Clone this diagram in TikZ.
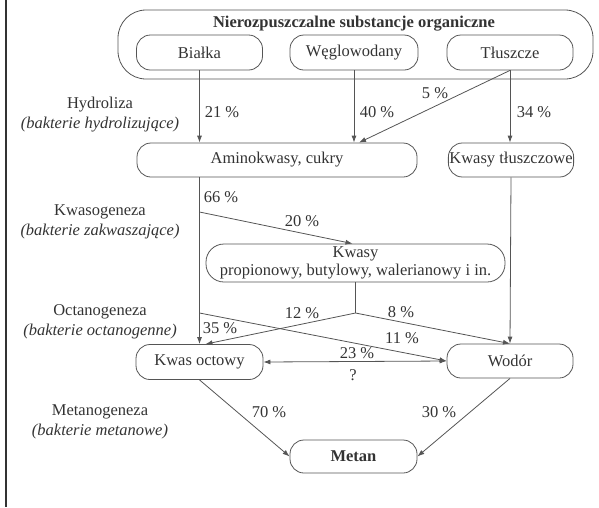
\documentclass[tikz,border=0pt]{standalone}
\usepackage{fontspec}
\setmainfont{Liberation Serif}
\usetikzlibrary{arrows.meta,calc}
\definecolor{ln}{HTML}{555555}
\definecolor{tx}{HTML}{333333}
\begin{document}
\begin{tikzpicture}[x=1pt,y=-1pt,
  every node/.style={text=tx,font=\fontsize{16.5}{20}\selectfont,inner sep=1pt},
  box/.style={draw=ln,line width=0.8pt,rounded corners=14pt,minimum height=35pt},
  arr/.style={draw=ln,line width=0.8pt,-{Latex[length=7pt,width=5pt]}},
  plain/.style={draw=ln,line width=0.8pt},
  stage/.style={align=center}]
\useasboundingbox (0,0) rectangle (599,507);
\draw[line width=1.4pt,color=black!80] (6,0) -- (6,507);
% boxes
\node[box,rounded corners=28pt,minimum width=475pt,minimum height=69pt] (top) at (355.5,44.5) {};
\node[font=\fontsize{16.5}{20}\selectfont\bfseries] (title) at (354,24) {Nierozpuszczalne substancje organiczne};
\node[box,minimum width=126pt] (bialka) at (199.5,52.5) {Białka};
\node[box,minimum width=128pt] (wegl) at (354,52.5) {Węglowodany};
\node[box,minimum width=126pt] (tlus) at (510,52.5) {Tłuszcze};
\node[box,minimum width=280pt,minimum height=34pt] (amino) at (277,160) {Aminokwasy, cukry};
\node[box,minimum width=124pt,minimum height=34pt] (ktl) at (511,160) {Kwasy tłuszczowe};
\node[box,minimum width=299pt,minimum height=38pt,rounded corners=18pt,align=center,font=\fontsize{16.5}{18}\selectfont] (kwasy) at (355.5,263) {Kwasy\\propionowy, butylowy, walerianowy i in.};
\node[box,minimum width=127pt] (octowy) at (199.5,362) {Kwas octowy};
\node[box,minimum width=126pt,minimum height=34pt] (wodor) at (510,361) {Wodór};
\node[box,minimum width=127pt,minimum height=33pt,font=\fontsize{16.5}{20}\selectfont\bfseries] (metan) at (353.5,456.5) {Metan};
% stage labels
\node[stage] (s1) at (100,115) {Hydroliza\\\textit{(bakterie hydrolizujące)}};
\node[stage] (s2) at (100,222) {Kwasogeneza\\\textit{(bakterie zakwaszające)}};
\node[stage] (s3) at (100,322) {Octanogeneza\\\textit{(bakterie octanogenne)}};
\node[stage] (s4) at (100,422) {Metanogeneza\\\textit{(bakterie metanowe)}};
% coordinates
\coordinate (a1) at (199.5,212);
\coordinate (a2) at (199.5,313);
\coordinate (b) at (355.5,313);
% connectors
\draw[arr] (bialka.south) -- (bialka.south |- amino.north);
\draw[arr] (wegl.south) -- (wegl.south |- amino.north);
\draw[arr] (tlus.south) -- ($(wegl.south |- amino.north)+(5,0)$);
\draw[arr] (tlus.south) -- (tlus.south |- ktl.north);
\draw[arr] (octowy.north |- amino.south) -- (octowy.north);
\draw[arr] (a1) -- ($(kwasy.north)+(-3,0)$);
\draw[plain] (kwasy.south) -- (b);
\draw[arr] (b) -- ($(octowy.north)+(6,0)$);
\draw[arr] (b) -- (wodor.north);
\draw[arr] (ktl.south) -- (wodor.north);
\draw[arr] (a2) -- (wodor.west);
\draw[arr,{Latex[length=7pt,width=5pt]}-{Latex[length=7pt,width=5pt]}] (octowy.east) -- (wodor.west);
\draw[arr] (octowy.south) -- (metan.west);
\draw[arr] (wodor.south) -- (metan.east);
% percentages
\node (p21) at (222,112) {21 \%};
\node (p40) at (377,112) {40 \%};
\node (p34) at (534,112) {34 \%};
\node (p5) at (435,93) {5 \%};
\node (p66) at (221,197) {66 \%};
\node (p20) at (302,221) {20 \%};
\node (p12) at (302,313) {12 \%};
\node (p8) at (401,312) {8 \%};
\node (p35) at (220,328) {35 \%};
\node (p11) at (402,338) {11 \%};
\node (p23) at (357,353) {23 \%};
\node (pq) at (353,375) {?};
\node (p70) at (269,412) {70 \%};
\node (p30) at (439,412) {30 \%};
\end{tikzpicture}
\end{document}
